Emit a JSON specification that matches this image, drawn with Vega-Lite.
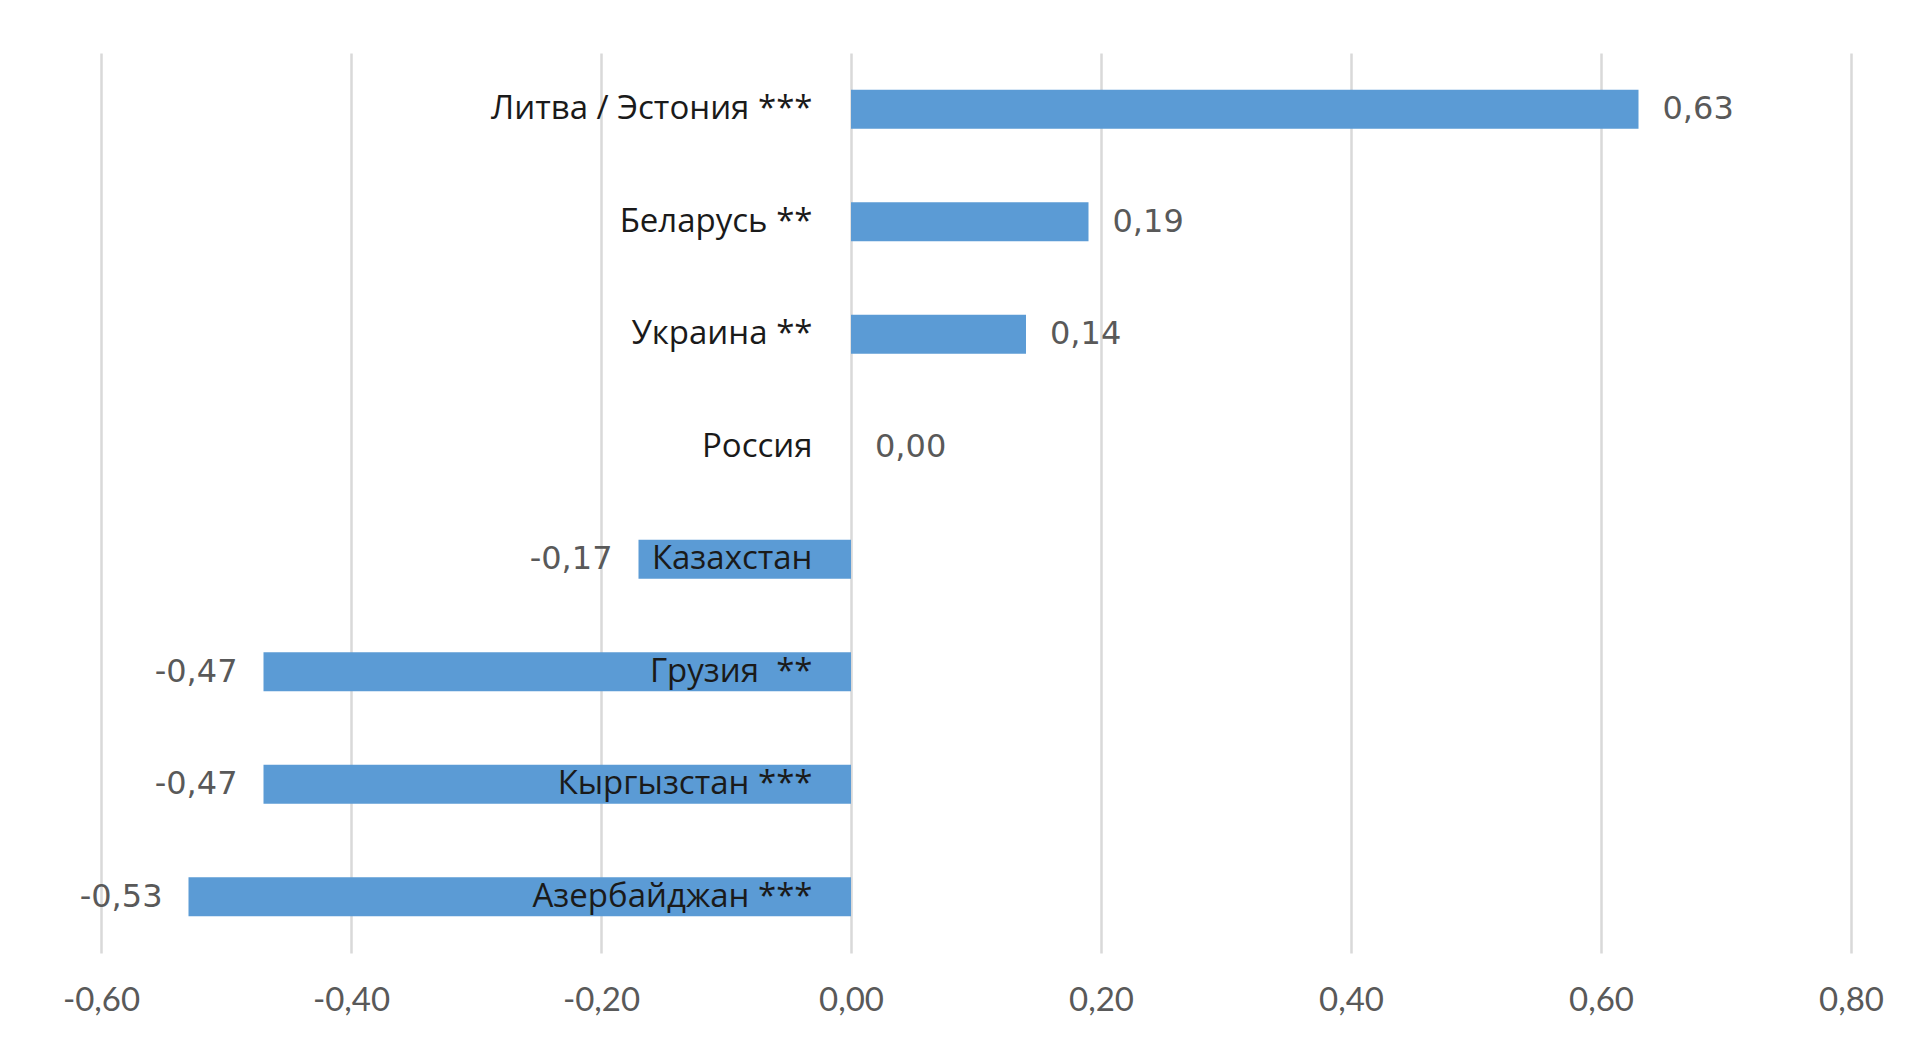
{
  "$schema": "https://vega.github.io/schema/vega-lite/v6.json",
  "width": 1750,
  "height": 900,
  "autosize": {"type": "none"},
  "padding": {"left": 101, "top": 53, "right": 65, "bottom": 86},
  "background": "white",
  "config": {
    "view": {"stroke": null},
    "locale": {"number": {"decimal": ",", "thousands": " ", "grouping": [3], "currency": ["", ""], "minus": "-"}}
  },
  "data": {
    "values": [
      {"country": "Литва / Эстония ***", "value": 0.63},
      {"country": "Беларусь **", "value": 0.19},
      {"country": "Украина **", "value": 0.14},
      {"country": "Россия", "value": 0.0},
      {"country": "Казахстан", "value": -0.17},
      {"country": "Грузия\u00a0\u00a0**", "value": -0.47},
      {"country": "Кыргызстан ***", "value": -0.47},
      {"country": "Азербайджан ***", "value": -0.53}
    ]
  },
  "encoding": {
    "y": {
      "field": "country",
      "type": "nominal",
      "sort": null,
      "scale": {"paddingInner": 0.655, "paddingOuter": 0.3275},
      "axis": {
        "orient": "left",
        "offset": -711,
        "domain": false,
        "ticks": false,
        "tickSize": 0,
        "labelPadding": 0,
        "labelLimit": 900,
        "labelFont": "Open Sans",
        "labelFontWeight": 500,
        "labelFontSize": 33,
        "labelColor": "#1a1a1a",
        "title": null,
        "grid": false,
        "zindex": 2
      }
    }
  },
  "layer": [
    {
      "mark": {"type": "bar", "color": "#5B9BD5"},
      "encoding": {
        "x": {
          "field": "value",
          "type": "quantitative",
          "scale": {"domain": [-0.6, 0.8], "nice": false, "zero": false},
          "axis": {
            "values": [-0.6, -0.4, -0.2, 0, 0.2, 0.4, 0.6, 0.8],
            "format": ".2f",
            "grid": true,
            "gridColor": "#d9d9d9",
            "gridWidth": 2.5,
            "domain": false,
            "ticks": false,
            "tickSize": 0,
            "labelPadding": 47,
            "labelBaseline": "middle",
            "labelFont": "Lato",
            "labelFontSize": 33,
            "labelColor": "#595959",
            "labelFlush": false,
            "labelOverlap": false,
            "title": null,
            "zindex": 0
          }
        }
      }
    },
    {
      "transform": [{"filter": "datum.value >= 0"}],
      "mark": {"type": "text", "align": "left", "baseline": "middle", "dx": 24, "font": "DejaVu Sans", "fontSize": 32, "color": "#595959"},
      "encoding": {
        "x": {"field": "value", "type": "quantitative"},
        "text": {"field": "value", "type": "quantitative", "format": ".2f"}
      }
    },
    {
      "transform": [{"filter": "datum.value < 0"}],
      "mark": {"type": "text", "align": "right", "baseline": "middle", "dx": -26, "font": "DejaVu Sans", "fontSize": 32, "color": "#595959"},
      "encoding": {
        "x": {"field": "value", "type": "quantitative"},
        "text": {"field": "value", "type": "quantitative", "format": ".2f"}
      }
    }
  ]
}
